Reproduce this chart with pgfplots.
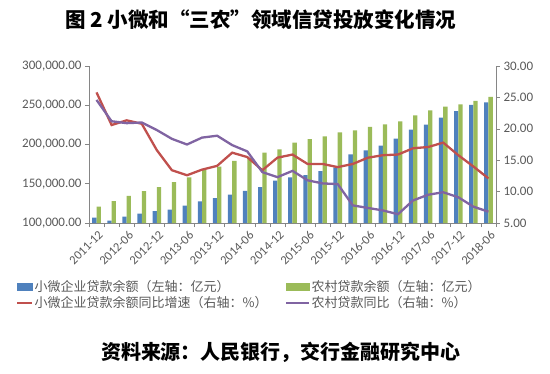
\documentclass[border=0pt]{standalone}
\usepackage{pgfplots}
\pgfplotsset{compat=1.18}
\usepackage{pgfplotstable}
\usepackage{fontspec}
\setmainfont{Carlito}
\newfontfamily\cjk{Noto Sans CJK SC}
\definecolor{cblue}{HTML}{4F81BD}
\definecolor{cgreen}{HTML}{9BBB59}
\definecolor{cred}{HTML}{C0504D}
\definecolor{cpurple}{HTML}{8064A2}
\definecolor{axgray}{HTML}{868686}
\definecolor{txtgray}{HTML}{595959}

\pgfplotstableread{
x blue green red purple
0 106800 121000 25.8 24.6
1 103000 128000 20.6 21.2
2 108000 134600 21.35 20.9
3 112000 140500 20.8 21.0
4 115000 145600 16.6 19.8
5 117000 152000 13.4 18.4
6 122000 158000 12.6 17.5
7 127400 167500 13.5 18.6
8 131600 171700 14.1 18.9
9 136300 179000 16.2 17.4
10 141000 183000 15.5 16.4
11 145600 189500 13.4 13.1
12 154000 193700 15.4 12.3
13 158000 202500 15.9 13.3
14 161000 207000 14.4 11.8
15 166000 210500 14.4 11.3
16 171000 215600 13.9 11.2
17 187300 218000 14.4 7.8
18 192400 222400 15.4 7.4
19 198700 225700 15.8 7.0
20 207600 229500 15.9 6.4
21 219000 237100 16.9 8.6
22 225300 243500 17.1 9.5
23 234200 248100 17.8 9.9
24 242600 251000 15.8 9.1
25 250600 255700 14.0 7.6
26 253600 260800 12.1 6.8
}\data

\begin{document}
\begin{tikzpicture}[x=1pt,y=1pt]
\useasboundingbox (0,0) rectangle (550,373);
\pgfplotsset{
  base/.style={
    scale only axis, width=407pt, height=157pt,
    at={(89pt,150pt)}, anchor=south west,
    xmin=-0.5, xmax=26.5,
    axis line style={draw=axgray,-},
    tick style={draw=axgray, line width=0.6pt},
    tick align=outside,
    major tick length=4pt,
    minor tick length=4pt,
    tick label style={font=\fontsize{13}{15}\selectfont, text=txtgray},
    /pgf/number format/assume math mode=true,
  }
}
\begin{axis}[base,
  axis x line*=bottom, axis y line*=left,
  ymin=100000, ymax=300000,
  ytick={100000,150000,200000,250000,300000},
  scaled y ticks=false,
  yticklabel style={/pgf/number format/.cd, fixed, fixed zerofill, precision=2, 1000 sep={,}},
  xtick={0,2,...,26},
  xticklabels={2011-12,2012-06,2012-12,2013-06,2013-12,2014-06,2014-12,2015-06,2015-12,2016-06,2016-12,2017-06,2017-12,2018-06},
  major x tick style={draw=none},
  minor xtick={-0.5,0.5,...,26.5},
  xticklabel style={rotate=45, anchor=north east, inner sep=1pt, yshift=-2pt, font=\fontsize{12.5}{14}\selectfont},
  ybar, bar width=4.3pt,
]
\addplot[fill=cblue, draw=none, bar shift=-2.15pt] table[x=x,y=blue]{\data};
\addplot[fill=cgreen, draw=none, bar shift=2.15pt] table[x=x,y=green]{\data};
\end{axis}
\begin{axis}[base,
  axis x line=none, axis y line*=right,
  ymin=5, ymax=30, ytick={5,10,...,30},
  yticklabel style={/pgf/number format/.cd, fixed, fixed zerofill, precision=2},
  legend columns=2,
  legend cell align=left,
  legend style={at={(-0.187,-0.345)}, anchor=north west, draw=none, fill=none,
    font=\cjk\fontsize{13}{15}\selectfont, text=txtgray,
    nodes={inner sep=1.5pt},
    /tikz/every even column/.append style={column sep=16pt}},
]
\addlegendimage{legend image code/.code={\fill[cblue] (0pt,-3.5pt) rectangle (15pt,3.5pt);}}
\addlegendentry{小微企业贷款余额（左轴：亿元）}
\addlegendimage{legend image code/.code={\fill[cgreen] (0pt,-3.5pt) rectangle (23pt,3.5pt);}}
\addlegendentry{农村贷款余额（左轴：亿元）}
\addlegendimage{legend image code/.code={\draw[cred, line width=2pt] (0pt,0pt) -- (15pt,0pt);}}
\addlegendentry{小微企业贷款余额同比增速（右轴：\%）}
\addlegendimage{legend image code/.code={\draw[cpurple, line width=2pt] (0pt,0pt) -- (23pt,0pt);}}
\addlegendentry{农村贷款同比（右轴：\%）}
\addplot[cred, line width=2.3pt, forget plot] table[x=x,y=red]{\data};
\addplot[cpurple, line width=2.3pt, forget plot] table[x=x,y=purple]{\data};
\end{axis}
\node[font=\cjk\bfseries\fontsize{20.5}{24}\selectfont] at (261,353) {图 2 小微和“三农”领域信贷投放变化情况};
\node[font=\cjk\bfseries\fontsize{20}{24}\selectfont] at (281,21) {资料来源：人民银行，交行金融研究中心};
\end{tikzpicture}
\end{document}
